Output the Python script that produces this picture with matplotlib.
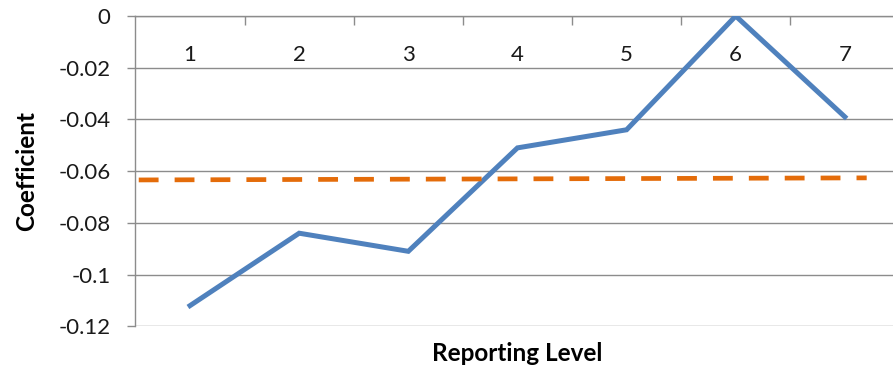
import matplotlib.pyplot as plt
import numpy as np
from matplotlib.ticker import FixedLocator

plt.rcParams['font.family'] = ['Lato', 'DejaVu Sans']

# Coefficient by reporting level
levels = [1, 2, 3, 4, 5, 6, 7]
coef = [-0.112, -0.084, -0.091, -0.051, -0.044, 0.0, -0.039]

# Pooled coefficient (dashed line), start and end
pooled_x = [0.53, 7.2]
pooled_y = [-0.0634, -0.0626]

yticks = [0, -0.02, -0.04, -0.06, -0.08, -0.1, -0.12]
ytick_labels = ['0', '-0.02', '-0.04', '-0.06', '-0.08', '-0.1', '-0.12']

grid_color = '#8c8c8c'

fig = plt.figure(figsize=(8.93, 3.67), dpi=100)
ax = fig.add_axes([0.1517, 0.1109, 0.8555, 0.8455])

ax.plot(levels, coef, color='#4F81BD', lw=3.6, solid_joinstyle='miter', zorder=3)
ax.plot(pooled_x, pooled_y, color='#E46C0A', lw=3.4, dashes=(4.2, 3.4),
        dash_capstyle='butt', zorder=3)

ax.set_xlim(0.5, 7.5)
ax.set_ylim(-0.12, 0)

ax.set_yticks(yticks)
ax.set_yticklabels(ytick_labels)
ax.yaxis.grid(True, color=grid_color, lw=1.0)
ax.tick_params(axis='y', length=6, width=1.0, color=grid_color, pad=12,
               labelsize=16, labelcolor='#1a1a1a')

# category labels hang below the axis line at zero
ax.xaxis.tick_top()
ax.set_xticks(levels)
ax.set_xticklabels([str(v) for v in levels])
ax.xaxis.set_minor_locator(FixedLocator(np.arange(1.5, 7.5, 1.0)))
ax.tick_params(axis='x', which='major', length=0, pad=-35, labelsize=16,
               labelcolor='#1a1a1a')
ax.tick_params(axis='x', which='minor', direction='in', length=6.5,
               width=1.0, color=grid_color)

for side in ['right', 'bottom']:
    ax.spines[side].set_visible(False)
for side in ['left', 'top']:
    ax.spines[side].set_color(grid_color)
    ax.spines[side].set_linewidth(1.0)

ax.set_axisbelow(True)

ax.set_xlabel('Reporting Level', fontsize=17.5, fontweight='bold')
ax.xaxis.set_label_position('bottom')
ax.xaxis.set_label_coords(0.5, -0.05)
ax.xaxis.label.set_verticalalignment('top')
ax.set_ylabel('Coefficient', fontsize=17.5, fontweight='bold')
ax.yaxis.set_label_coords(-0.127, 0.5)

fig.savefig('out.png', dpi=100)
